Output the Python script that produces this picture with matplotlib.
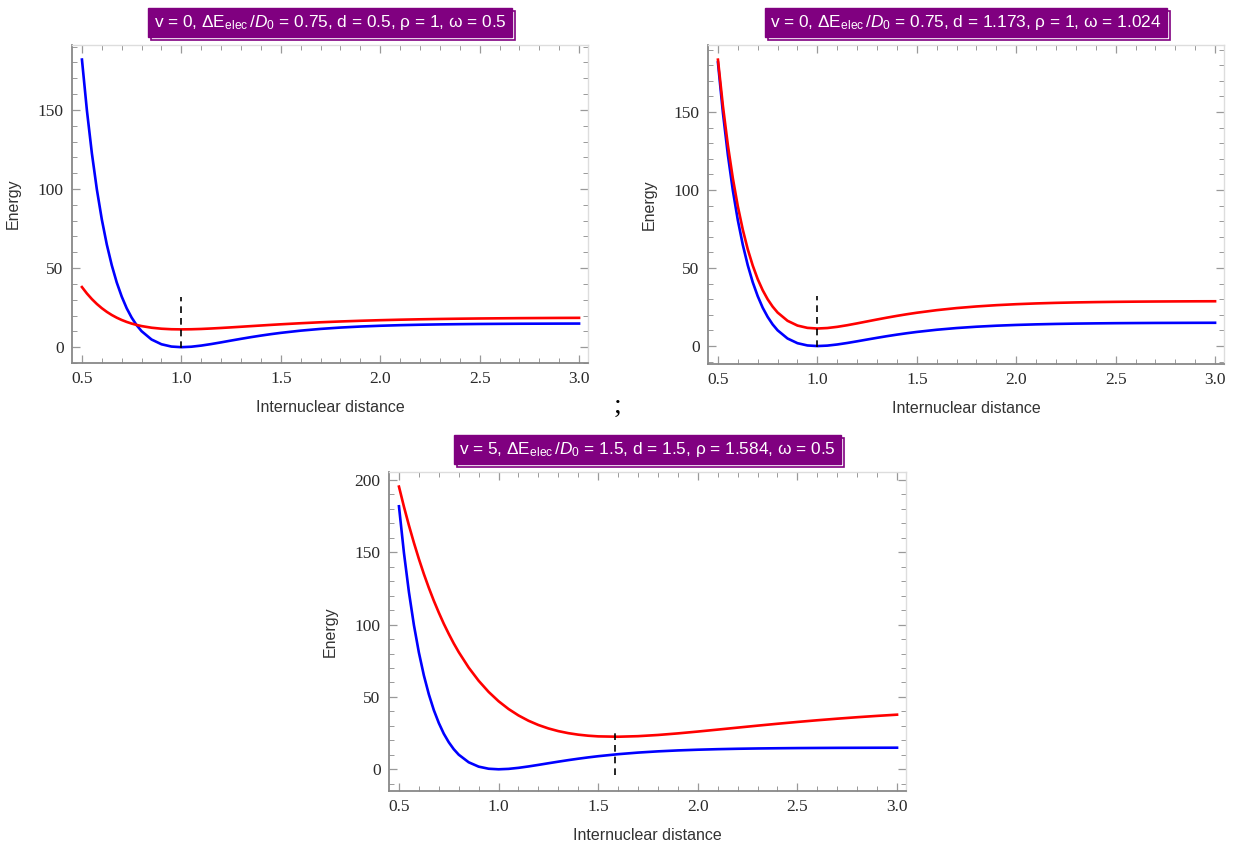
import matplotlib.pyplot as plt
from matplotlib.ticker import MultipleLocator
from matplotlib.transforms import ScaledTranslation, IdentityTransform
from matplotlib.patches import Rectangle

plt.rcParams['font.family'] = ['Liberation Sans', 'DejaVu Sans']
plt.rcParams['mathtext.fontset'] = 'custom'
plt.rcParams['mathtext.rm'] = 'Liberation Sans'
plt.rcParams['mathtext.it'] = 'Liberation Sans:italic'

# internuclear distance grid
r = [0.5, 0.525, 0.55, 0.575, 0.6, 0.625, 0.65, 0.675, 0.7, 0.725, 0.75, 0.775, 0.8,
     0.85, 0.9, 0.95, 1.0, 1.05, 1.1, 1.15, 1.2, 1.25, 1.3, 1.35, 1.4, 1.45, 1.5,
     1.6, 1.7, 1.8, 1.9, 2.0, 2.1, 2.2, 2.3, 2.4, 2.5, 2.6, 2.7, 2.8, 2.9, 3.0]

# ground state (blue) - same in all three panels
blue = [181.8, 149.6, 122.5, 99.7, 80.7, 64.9, 51.8, 40.9, 32.0, 24.6, 18.7, 13.9, 10.1,
        4.85, 1.84, 0.39, 0.0, 0.29, 1.01, 1.97, 3.05, 4.18, 5.28, 6.34, 7.32, 8.23, 9.05,
        10.45, 11.55, 12.40, 13.05, 13.54, 13.91, 14.19, 14.40, 14.55, 14.67, 14.75, 14.82,
        14.86, 14.90, 14.93]

# excited states (red)
red_1 = [38.0, 33.93, 30.39, 27.31, 24.64, 22.33, 20.34, 18.64, 17.19, 15.96, 14.92, 14.06,
         13.34, 12.30, 11.67, 11.34, 11.25, 11.33, 11.52, 11.81, 12.15, 12.52, 12.91, 13.31,
         13.70, 14.09, 14.46, 15.14, 15.74, 16.25, 16.69, 17.06, 17.37, 17.62, 17.83, 18.00,
         18.14, 18.25, 18.35, 18.42, 18.49, 18.54]
red_2 = [183.6, 153.9, 128.7, 107.5, 89.6, 74.6, 62.0, 51.6, 42.9, 35.8, 30.0, 25.3, 21.5,
         16.20, 13.14, 11.66, 11.25, 11.56, 12.32, 13.36, 14.55, 15.79, 17.03, 18.22, 19.35,
         20.40, 21.36, 23.01, 24.35, 25.39, 26.21, 26.84, 27.33, 27.70, 27.98, 28.19, 28.35,
         28.47, 28.56, 28.63, 28.69, 28.72]
red_3 = [195.4, 181.5, 168.6, 156.6, 145.4, 135.0, 125.4, 116.5, 108.3, 100.6, 93.6, 87.0,
         81.0, 70.3, 61.2, 53.5, 47.05, 41.68, 37.23, 33.57, 30.61, 28.25, 26.39, 24.98,
         23.94, 23.22, 22.76, 22.51, 22.90, 23.72, 24.82, 26.09, 27.44, 28.81, 30.17, 31.48,
         32.73, 33.90, 34.99, 36.00, 36.92, 37.76]

titles = [r'v = 0, $\Delta\mathrm{E}_{\mathrm{elec}}\,/D_0$ = 0.75, d = 0.5, ρ = 1, ω = 0.5',
          r'v = 0, $\Delta\mathrm{E}_{\mathrm{elec}}\,/D_0$ = 0.75, d = 1.173, ρ = 1, ω = 1.024',
          r'v = 5, $\Delta\mathrm{E}_{\mathrm{elec}}\,/D_0$ = 1.5, d = 1.5, ρ = 1.584, ω = 0.5']
rho = [1.0, 1.0, 1.584]
dash_lo = [-0.5, -0.5, -4]
dash_hi = [32, 32, 27]

fig = plt.figure(figsize=(12.38, 8.46), dpi=100)
W, H = 1238, 846
boxes = [(72, 45, 588, 363), (708, 45, 1224, 364), (389, 472, 906, 791)]
ylims = [(-10, 191), (-11.5, 193), (-15, 205.5)]
reds = [red_1, red_2, red_3]
title_texts = []

for i in range(3):
    x0, y0, x1, y1 = boxes[i]
    ax = fig.add_axes([x0 / W, (H - y1) / H, (x1 - x0) / W, (y1 - y0) / H])
    ax.plot(r, blue, color='#0000ff', lw=1.9)
    ax.plot(r, reds[i], color='#ff0000', lw=1.9)
    ax.plot([rho[i], rho[i]], [dash_lo[i], dash_hi[i]], color='black', lw=1.2,
            dashes=(4, 3))
    ax.set_xlim(0.45, 3.045)
    ax.set_ylim(*ylims[i])
    ax.xaxis.set_major_locator(MultipleLocator(0.5))
    ax.xaxis.set_minor_locator(MultipleLocator(0.1))
    ax.yaxis.set_major_locator(MultipleLocator(50))
    ax.yaxis.set_minor_locator(MultipleLocator(10))
    ax.tick_params(which='both', direction='in', top=True, right=True, color='#999999',
                   labelcolor='#2a2a2a', labelsize=12.5, pad=6)
    ax.tick_params(which='major', length=6, width=0.9)
    ax.tick_params(which='minor', length=3.5, width=0.7)
    for lab in ax.get_xticklabels() + ax.get_yticklabels():
        lab.set_family('Liberation Serif')
    ax.xaxis.set_major_formatter(plt.FuncFormatter(lambda v, p: '%.1f' % v))
    for s in ['left', 'bottom']:
        ax.spines[s].set_color('#888888')
        ax.spines[s].set_linewidth(1.3)
    for s in ['top', 'right']:
        ax.spines[s].set_color('#dddddd')
        ax.spines[s].set_linewidth(1.0)
    ax.set_xlabel('Internuclear distance', fontsize=11.5, color='#333333', labelpad=9)
    ax.set_ylabel('Energy', fontsize=11.5, color='#333333', labelpad=12)

    up = ScaledTranslation(0, 0.225, fig.dpi_scale_trans)
    t = ax.text(0.5, 1.0, titles[i], transform=ax.transAxes + up, ha='center',
                va='center', fontsize=12.4, color='white',
                bbox=dict(boxstyle='square,pad=0.3', fc='#800080', ec='#800080', lw=1.0))
    title_texts.append(t)

fig.text(617 / W, 1 - 406 / H, ';', fontsize=20, family='Liberation Serif',
         ha='center', va='center', color='black')

# offset frame behind each title box
fig.canvas.draw()
for t in title_texts:
    bb = t.get_bbox_patch().get_window_extent()
    fig.patches.append(Rectangle((bb.x0 + 3, bb.y0 - 3), bb.width, bb.height,
                                 transform=IdentityTransform(), fc='white',
                                 ec='#800080', lw=1.2, zorder=-1))

fig.savefig('out.png', dpi=100)
